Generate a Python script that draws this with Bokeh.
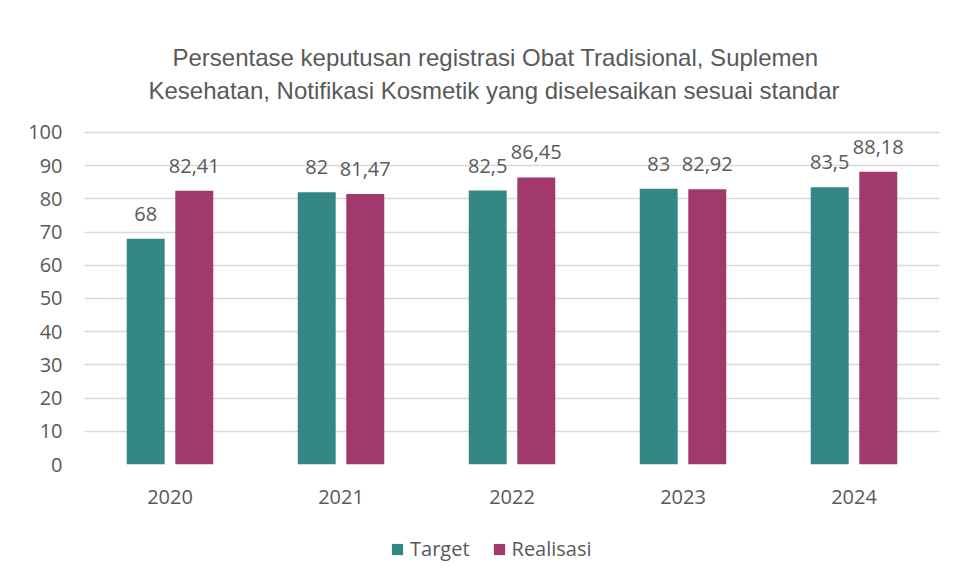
from bokeh.plotting import figure
from bokeh.models import FactorRange, Range1d, Legend, LegendItem, Title, ColumnDataSource
from bokeh.layouts import column
from bokeh.transform import dodge
from bokeh.core.properties import value
from bokeh.embed import file_html
from bokeh.resources import INLINE

years = ["2020", "2021", "2022", "2023", "2024"]
target = [68, 82, 82.5, 83, 83.5]
realisasi = [82.41, 81.47, 86.45, 82.92, 88.18]
target_labels = ["68", "82", "82,5", "83", "83,5"]
realisasi_labels = ["82,41", "81,47", "86,45", "82,92", "88,18"]
y_ticks = [0, 10, 20, 30, 40, 50, 60, 70, 80, 90, 100]
series_names = ["Target", "Realisasi"]
title_lines = ["Persentase keputusan registrasi Obat Tradisional, Suplemen",
               "Kesehatan, Notifikasi Kosmetik yang diselesaikan sesuai standar"]

TEAL = "#338785"
MAGENTA = "#A2396D"
GRAY = "#595959"
FONT = "Open Sans"
TFONT = "Liberation Sans"

src = ColumnDataSource(dict(years=years, target=target, realisasi=realisasi,
                            tl=target_labels, rl=realisasi_labels))

p = figure(width=947, height=526,
           x_range=FactorRange(*years), y_range=Range1d(0, 107.8),
           output_backend="svg", toolbar_location=None,
           min_border_left=84, min_border_right=8, min_border_top=106, min_border_bottom=62)

p.background_fill_color = "white"
p.border_fill_color = "white"
p.outline_line_color = None

off = 0.142
w = 0.222
p.vbar(x=dodge("years", -off, range=p.x_range), top="target", width=w, source=src,
       fill_color=TEAL, line_color=None)
p.vbar(x=dodge("years", off, range=p.x_range), top="realisasi", width=w, source=src,
       fill_color=MAGENTA, line_color=None)

p.text(x=dodge("years", -off, range=p.x_range), y="target", text="tl", source=src,
       text_font=value(FONT), text_font_size="20px", text_color=GRAY,
       text_align="center", text_baseline="alphabetic", y_offset=-25)
p.text(x=dodge("years", off, range=p.x_range), y="realisasi", text="rl", source=src,
       text_font=value(FONT), text_font_size="20px", text_color=GRAY,
       text_align="center", text_baseline="alphabetic", y_offset=-25)

# grid
p.xgrid.grid_line_color = None
p.ygrid.grid_line_color = "#d9d9d9"
p.ygrid.grid_line_width = 1.4
p.yaxis.ticker = y_ticks

for ax in (p.xaxis, p.yaxis):
    ax.axis_line_color = None
    ax.major_tick_line_color = None
    ax.minor_tick_line_color = None
    ax.major_label_text_font = FONT
    ax.major_label_text_font_size = "20px"
    ax.major_label_text_color = GRAY
p.yaxis.major_label_standoff = 16
p.xaxis.major_label_standoff = 19

# title (two lines)
def style_title(t, line_text, off_px, standoff):
    t.text = line_text
    t.align = "left"
    t.offset = off_px
    t.text_font = TFONT
    t.text_font_size = "24px"
    t.text_font_style = "normal"
    t.text_color = GRAY
    t.standoff = standoff
    t.vertical_align = "bottom"

t2 = Title()
style_title(t2, title_lines[1], 148 - 84, 6)
p.add_layout(t2, "above")
style_title(p.title, title_lines[0], 172 - 84, 2)

# legend strip below the chart (zero-height key glyphs, one per series)
lf = figure(width=947, height=48, output_backend="svg", toolbar_location=None,
            min_border=0, x_range=FactorRange(*series_names), y_range=Range1d(0, 1))
lf.axis.visible = False
lf.grid.visible = False
lf.outline_line_color = None
lf.background_fill_color = "white"
lf.border_fill_color = "white"
k1 = lf.vbar(x=series_names[:1], top=[0], width=0.1, fill_color=TEAL, line_color=None)
k2 = lf.vbar(x=series_names[1:], top=[0], width=0.1, fill_color=MAGENTA, line_color=None)

legend = Legend(items=[LegendItem(label=series_names[0], renderers=[k1]),
                       LegendItem(label=series_names[1], renderers=[k2])],
                orientation="horizontal", location=(306, 12),
                padding=0, margin=0, spacing=22, label_standoff=6,
                glyph_width=14, glyph_height=14, label_height=14,
                border_line_color=None, background_fill_alpha=0,
                label_text_font=FONT, label_text_font_size="20px", label_text_color=GRAY)
lf.add_layout(legend)

page = column(p, lf, spacing=0)
open("out.html", "w").write(file_html(page, INLINE))
